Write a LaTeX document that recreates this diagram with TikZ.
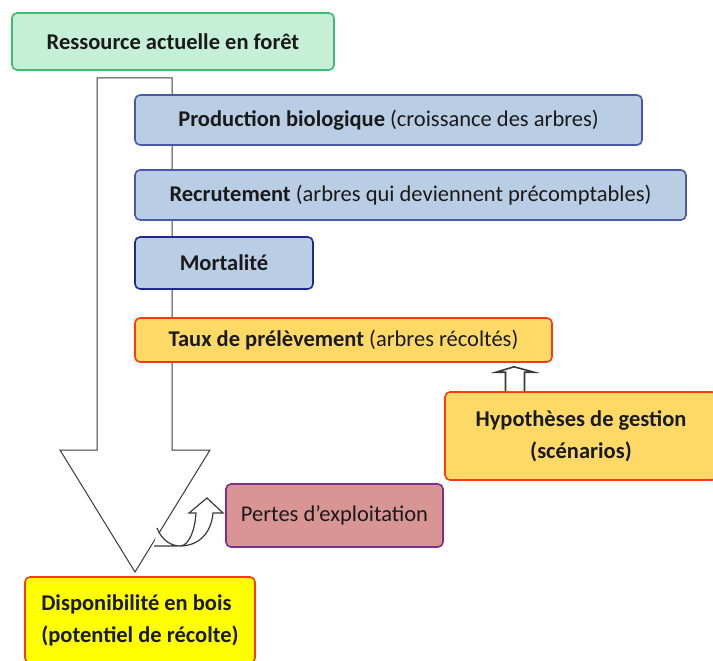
\documentclass[tikz,border=0pt]{standalone}
\usepackage{fontspec}
\setmainfont{Carlito}
\definecolor{grfill}{HTML}{C6EFD7}
\definecolor{grdraw}{HTML}{3DBE6E}
\definecolor{blfill}{HTML}{B9CDE5}
\definecolor{bldraw}{HTML}{4A5AA8}
\definecolor{bldark}{HTML}{1F2A8A}
\definecolor{orfill}{HTML}{FFD966}
\definecolor{ordraw}{HTML}{FF3A10}
\definecolor{pkfill}{HTML}{D99594}
\definecolor{pkdraw}{HTML}{7A3090}
\definecolor{yefill}{HTML}{FFFF00}
\definecolor{txt}{HTML}{1A1A1A}
\definecolor{arr}{HTML}{3A3A3A}
\tikzset{
  box/.style={rectangle, rounded corners=5pt, line width=1.6pt, text=txt, inner sep=0pt,
    font=\fontsize{22.5}{32}\selectfont, anchor=center},
  greenbox/.style={box, fill=grfill, draw=grdraw},
  bluebox/.style={box, fill=blfill, draw=bldraw},
  orangebox/.style={box, fill=orfill, draw=ordraw},
  pinkbox/.style={box, fill=pkfill, draw=pkdraw},
  yellowbox/.style={box, fill=yefill, draw=ordraw},
  blockarrow/.style={draw=arr, line width=1pt, fill=white, line join=miter},
}
\begin{document}
\begin{tikzpicture}[x=1pt,y=-1pt]
\useasboundingbox (0,0) rectangle (713,661);
% big block arrow (behind the boxes)
\draw[blockarrow] (97,78) -- (172,78) -- (172,450) -- (210,450) -- (135,572) -- (60,450) -- (97,450) -- cycle;
\node[greenbox, minimum width=322pt, minimum height=57pt] (res) at (173,41.5) {\bfseries Ressource actuelle en forêt};
\node[bluebox, minimum width=507pt, minimum height=50pt] (prod) at (388.5,120) {\textbf{Production biologique} (croissance des arbres)};
\node[bluebox, minimum width=551pt, minimum height=50pt] (recr) at (410.5,195) {\textbf{Recrutement} (arbres qui deviennent précomptables)};
\node[bluebox, draw=bldark, minimum width=178pt, minimum height=52pt] (mort) at (224,263) {\bfseries Mortalité};
\node[orangebox, minimum width=417pt, minimum height=44pt] (taux) at (343.5,340) {\textbf{Taux de prélèvement} (arbres récoltés)};
\node[orangebox, minimum width=272pt, minimum height=88pt, align=center] (hyp) at (581,436) {\bfseries Hypothèses de gestion\\\bfseries (scénarios)};
\node[pinkbox, minimum width=217pt, minimum height=63pt] (pertes) at (334.5,515.5) {\raisebox{4pt}{Pertes d’exploitation}};
\node[yellowbox, minimum width=230pt, minimum height=86pt, align=left] (dispo) at (140,620) {\bfseries Disponibilité en bois\\\bfseries (potentiel de récolte)};
% small up arrow from hypotheses to taux
\coordinate (hs) at ([xshift=-66pt]hyp.north);
\coordinate (tt) at ([xshift=170.5pt,yshift=-4pt]taux.south);
\draw[blockarrow, line width=1.6pt] ([xshift=-9.5pt]hs) -- ([xshift=-9.5pt,yshift=19pt]hs) -- ([xshift=-19pt,yshift=19pt]hs)
  -- (tt) -- ([xshift=19pt,yshift=19pt]hs) -- ([xshift=9.5pt,yshift=19pt]hs) -- ([xshift=9.5pt]hs);
% curved arrow to pertes
\coordinate (cv) at (180,546);
\draw[blockarrow, line width=1.2pt] (157,528) .. controls (162,541) and (172,546) .. (cv)
  .. controls (189,546) and (195,530) .. (196,513) -- (189,513) -- (207,498) -- (223,513) -- (213,513)
  .. controls (211,535) and (197,546) .. (cv) -- (154,546);
\end{tikzpicture}
\end{document}
